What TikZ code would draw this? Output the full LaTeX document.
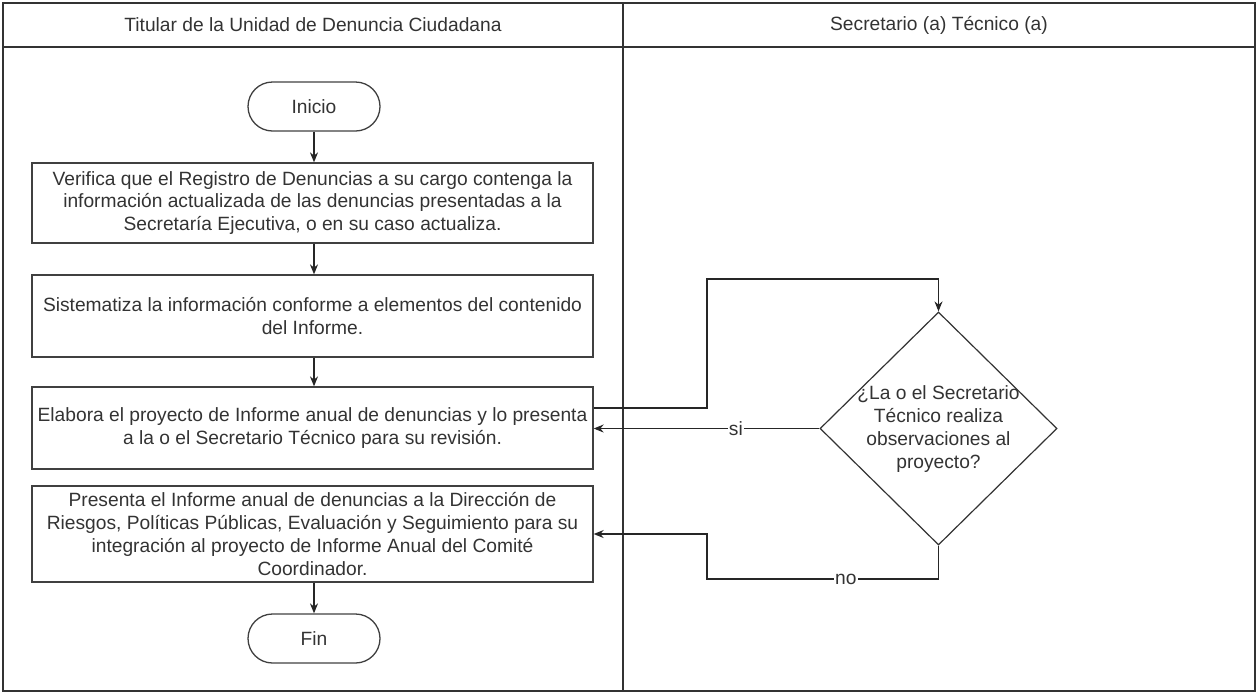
\documentclass[tikz,border=0pt]{standalone}
\usepackage{fontspec}
\setmainfont{Liberation Sans}
\usetikzlibrary{shapes.geometric,shapes.misc,arrows.meta,calc}
\begin{document}
\begin{tikzpicture}[x=1pt,y=-1pt,
  every node/.style={font=\fontsize{19.2}{22.8}\selectfont, text=black!80},
  frame/.style={draw=black!80, line width=1.4pt},
  proc/.style={draw=black!75, line width=1.3pt, rectangle, minimum width=561pt, align=center, inner sep=0pt},
  term/.style={draw=black!75, line width=1.3pt, rounded rectangle, minimum width=132pt, minimum height=49pt, inner sep=0pt},
  dec/.style={draw=black!80, line width=1.2pt, diamond, minimum width=237pt, minimum height=233pt, inner sep=0pt},
  conn/.style={draw=black!85, line width=1.2pt},
  arr/.style={conn, -{Stealth[length=10pt,width=8pt]}},
  lbl/.style={fill=white, inner sep=1pt}
]
\useasboundingbox (0,0) rectangle (1257,694);
% swimlanes
\draw[frame] (3,3) rectangle (1255,691);
\draw[frame] (3,47) -- (1255,47);
\draw[frame] (623,3) -- (623,691);
\node (h1) at (313,25) {Titular de la Unidad de Denuncia Ciudadana};
\node (h2) at (939,25) {Secretario (a) Técnico (a)};
% nodes
\node[term] (ini) at (314,106.5) {Inicio};
\node[proc, minimum height=80pt] (b1) at (312.5,203) {Verifica que el Registro de Denuncias a su cargo contenga la\\información actualizada de las denuncias presentadas a la\\Secretaría Ejecutiva, o en su caso actualiza.};
\node[proc, minimum height=82pt] (b2) at (312.5,316) {Sistematiza la información conforme a elementos del contenido\\del Informe.};
\node[proc, minimum height=82pt] (b3) at (312.5,428) {Elabora el proyecto de Informe anual de denuncias y lo presenta\\a la o el Secretario Técnico para su revisión.};
\node[proc, minimum height=96pt] (b4) at (312.5,534) {Presenta el Informe anual de denuncias a la Dirección de\\Riesgos, Políticas Públicas, Evaluación y Seguimiento para su\\integración al proyecto de Informe Anual del Comité\\Coordinador.};
\node[term] (fin) at (314,638.5) {Fin};
\node[dec] (d) at (938.5,428.5) {};
\node[align=center] (dt) at (938.5,429) {¿La o el Secretario\\Técnico realiza\\observaciones al\\proyecto?};
% connectors
\draw[arr] (ini.south) -- (ini.south |- b1.north);
\draw[arr] (b1.south -| ini.south) -- (b2.north -| ini.south);
\draw[arr] (b2.south -| ini.south) -- (b3.north -| ini.south);
\draw[arr] (b4.south -| ini.south) -- (fin.north);
\coordinate (o1) at ($(b3.east)+(0,-20)$);
\coordinate (r1) at (707,408);
\coordinate (r2) at (707,279);
\draw[arr] (o1) -- (r1) -- (r2) -- (r2 -| d.north) -- (d.north);
\draw[arr] (d.west) -- node[lbl, pos=0.37] {si} (d.west -| b3.east);
\coordinate (n1) at (938.5,579);
\coordinate (n2) at (707,579);
\draw[arr] (d.south) -- (n1) -- node[lbl, pos=0.4] {no} (n2) -- (n2 |- b4.east) -- (b4.east);
\end{tikzpicture}
\end{document}
